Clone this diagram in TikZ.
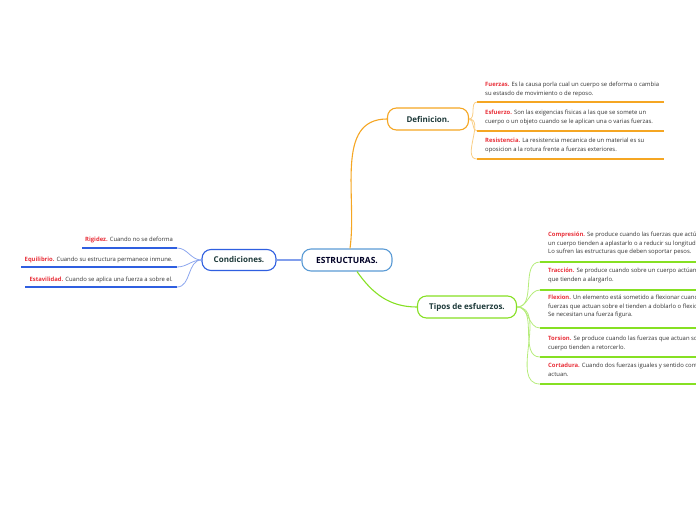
\documentclass[tikz,border=0pt]{standalone}
\usepackage{fontspec}
\setmainfont{Open Sans}
\usetikzlibrary{positioning}
\definecolor{rootBlue}{HTML}{5B9BD5}
\definecolor{condBlue}{HTML}{2F5FE0}
\definecolor{defOrange}{HTML}{F5A623}
\definecolor{tipGreen}{HTML}{86E023}
\definecolor{keyRed}{HTML}{E8303A}
\definecolor{topicText}{HTML}{1E3A3A}
\newcommand{\keyw}[1]{\textcolor{keyRed}{\textbf{#1}}}
\tikzset{
    % Topics
    topic/.style={rectangle, rounded corners=9pt, line width=1.1pt, fill=white,
                  minimum height=22pt, inner sep=0pt, text=topicText,
                  font=\fontsize{8}{10}\selectfont\bfseries},
    % Notes
    note/.style={inner sep=0pt, align=left, text=black!80,
                 font=\fontsize{5.9}{8.6}\selectfont},
    % Flow
    flow/.style={line width=1.1pt},
    twig/.style={line width=0.8pt},
    under/.style={line width=1.6pt}
}

\begin{document}
\begin{tikzpicture}[x=1pt, y=-1pt]
\useasboundingbox (0,0) rectangle (696,520);
\clip (0,0) rectangle (696,520);

\node[topic, draw=rootBlue, text=black!85!blue, minimum width=90pt, font=\fontsize{8.5}{10}\selectfont\bfseries] (root) at (347,260) {ESTRUCTURAS.};
\node[topic, draw=condBlue, minimum width=74pt, minimum height=21pt] (cond) at (239,260) {Condiciones.};
\node[topic, draw=defOrange, minimum width=81pt] (def) at (428,119) {Definicion.};
\node[topic, draw=tipGreen, minimum width=99pt] (tip) at (467,307) {Tipos de esfuerzos.};

\draw[flow, condBlue!60] (root.west) -- (cond.east);
\draw[flow, defOrange] ([xshift=3pt]root.north) to[out=82, in=180] (def.west);
\draw[flow, tipGreen] ([xshift=10pt]root.south) to[out=-55, in=180] (tip.west);

% Definicion
\node[note, anchor=north west] (fue) at (485,82) {\keyw{Fuerzas.} Es la causa porla cual un cuerpo se deforma o cambia\\su estasdo de movimiento o de reposo.};
\node[note, anchor=north west] (esf) at (485,110) {\keyw{Esfuerzo.} Son las exigencias fisicas a las que se somete un\\cuerpo o un objeto cuando se le aplican una o varias fuerzas.};
\node[note, anchor=north west] (res) at (485,138) {\keyw{Resistencia.} La resistencia mecanica de un material es su\\oposicion a la rotura frente a fuerzas exteriores.};
\coordinate (fueA) at (477,102); \coordinate (fueB) at (664,102);
\coordinate (esfA) at (477,131); \coordinate (esfB) at (664,131);
\coordinate (resA) at (477,159); \coordinate (resB) at (664,159);
\foreach \n in {fue,esf,res}{
  \draw[under, defOrange] (\n A) -- (\n B);
  \draw[twig, defOrange!55] (def.east) to[out=0, in=180] (\n A);
}

% Condiciones
\node[note, anchor=north east] (rig) at (173,237) {\keyw{Rigidez.} Cuando no se deforma};
\node[note, anchor=north east] (equ) at (173,257) {\keyw{Equilibrio.} Cuando su estructura permanece inmune.};
\node[note, anchor=north east] (est) at (173,277) {\keyw{Estavilidad.} Cuando se aplica una fuerza a sobre el.};
\coordinate (rigA) at (177,248); \coordinate (rigB) at (82,248);
\coordinate (equA) at (177,267); \coordinate (equB) at (21,267);
\coordinate (estA) at (177,287); \coordinate (estB) at (25,287);
\foreach \n in {rig,equ,est}{
  \draw[under, condBlue] (\n A) -- (\n B);
  \draw[twig, condBlue!55] (cond.west) to[out=180, in=0] (\n A);
}

% Tipos de esfuerzos
\node[note, anchor=north west] (com) at (548,232) {\keyw{Compresión.} Se produce cuando las fuerzas que actúan\\un cuerpo tienden a aplastarlo o a reducir su longitud.\\Lo sufren las estructuras que deben soportar pesos.};
\node[note, anchor=north west] (tra) at (548,268) {\keyw{Tracción.} Se produce cuando sobre un cuerpo actúan\\que tienden a alargarlo.};
\node[note, anchor=north west] (fle) at (548,295) {\keyw{Flexion.} Un elemento está sometido a flexionar cuando\\fuerzas que actuan sobre el tienden a doblarlo o flexionarlo.\\Se necesitan una fuerza figura.};
\node[note, anchor=north west] (tor) at (548,336) {\keyw{Torsion.} Se produce cuando las fuerzas que actuan sobre\\cuerpo tienden a retorcerlo.};
\node[note, anchor=north west] (cor) at (548,363) {\keyw{Cortadura.} Cuando dos fuerzas iguales y sentido contrario\\actuan.};
\coordinate (comA) at (540,262); \coordinate (comB) at (700,262);
\coordinate (traA) at (540,290); \coordinate (traB) at (700,290);
\coordinate (fleA) at (540,328); \coordinate (fleB) at (700,328);
\coordinate (torA) at (540,357); \coordinate (torB) at (700,357);
\coordinate (corA) at (540,384); \coordinate (corB) at (700,384);
\foreach \n in {com,tra,fle,tor,cor}{
  \draw[under, tipGreen] (\n A) -- (\n B);
  \draw[twig, tipGreen!60] (tip.east) to[out=0, in=180] (\n A);
}

\end{tikzpicture}
\end{document}
